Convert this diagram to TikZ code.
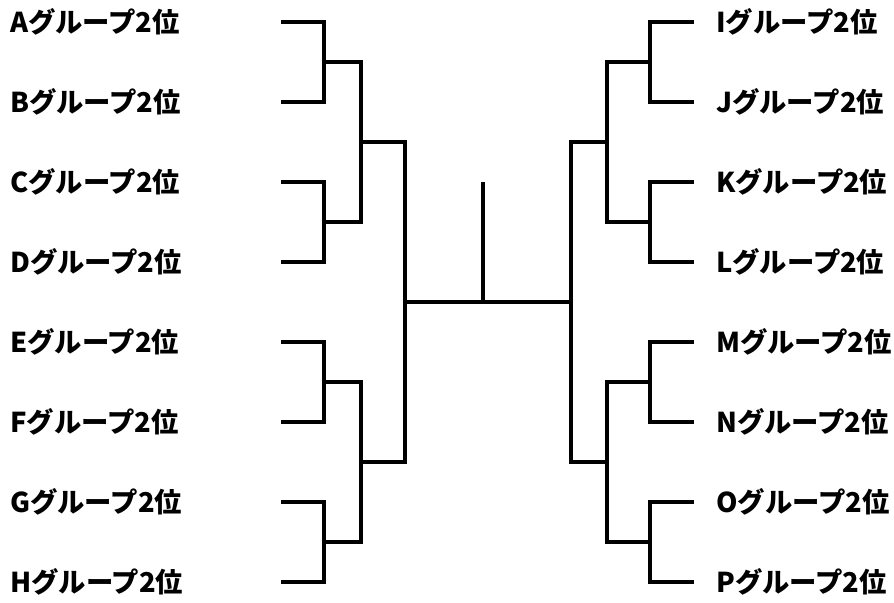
\documentclass[tikz,border=0pt]{standalone}
\usepackage{fontspec}
\usepackage{tikz}
\setmainfont{Noto Sans CJK JP}
\usetikzlibrary{positioning}
\tikzset{
  team/.style={font=\bfseries\fontsize{20.5}{20.5}\selectfont, inner sep=0pt, anchor=west},
  bracket/.style={line width=3pt, black}
}

\begin{document}
\begin{tikzpicture}[x=0.75pt,y=-0.75pt]
  \useasboundingbox (0,0) rectangle (894,603);

  \coordinate (a0) at (281,22);
  \coordinate (b0) at (281,102);
  \coordinate (c0) at (281,182);
  \coordinate (d0) at (281,262);
  \coordinate (e0) at (281,342);
  \coordinate (f0) at (281,422);
  \coordinate (g0) at (281,502);
  \coordinate (h0) at (281,582);
  \coordinate (ab) at (324,62);
  \coordinate (cd) at (324,222);
  \coordinate (ef) at (324,382);
  \coordinate (gh) at (324,542);
  \coordinate (abcd) at (361,142);
  \coordinate (efgh) at (361,462);
  \coordinate (left) at (405,302);

  \coordinate (i0) at (694,22);
  \coordinate (j0) at (694,102);
  \coordinate (k0) at (694,182);
  \coordinate (l0) at (694,262);
  \coordinate (m0) at (694,342);
  \coordinate (n0) at (694,422);
  \coordinate (o0) at (694,502);
  \coordinate (p0) at (694,582);
  \coordinate (ij) at (650,62);
  \coordinate (kl) at (650,222);
  \coordinate (mn) at (650,382);
  \coordinate (op) at (650,542);
  \coordinate (ijkl) at (607,142);
  \coordinate (mnop) at (607,462);
  \coordinate (right) at (571,302);

  \coordinate (center) at (483,302);
  \coordinate (top) at (483,182);

  \node[team] at (10,22) (a) {Aグループ2位};
  \node[team] at (10,102) (b) {Bグループ2位};
  \node[team] at (10,182) (c) {Cグループ2位};
  \node[team] at (10,262) (d) {Dグループ2位};
  \node[team] at (10,342) (e) {Eグループ2位};
  \node[team] at (10,422) (f) {Fグループ2位};
  \node[team] at (10,502) (g) {Gグループ2位};
  \node[team] at (10,582) (h) {Hグループ2位};

  \node[team] at (716,22) (i) {Iグループ2位};
  \node[team] at (716,102) (j) {Jグループ2位};
  \node[team] at (716,182) (k) {Kグループ2位};
  \node[team] at (716,262) (l) {Lグループ2位};
  \node[team] at (716,342) (m) {Mグループ2位};
  \node[team] at (716,422) (n) {Nグループ2位};
  \node[team] at (716,502) (o) {Oグループ2位};
  \node[team] at (716,582) (p) {Pグループ2位};

  \draw[bracket] (a0) -| (ab) |- (b0);
  \draw[bracket] (c0) -| (cd) |- (d0);
  \draw[bracket] (e0) -| (ef) |- (f0);
  \draw[bracket] (g0) -| (gh) |- (h0);
  \draw[bracket] (ab) -| (abcd) |- (cd);
  \draw[bracket] (ef) -| (efgh) |- (gh);
  \draw[bracket] (abcd) -| (left) |- (efgh);

  \draw[bracket] (i0) -| (ij) |- (j0);
  \draw[bracket] (k0) -| (kl) |- (l0);
  \draw[bracket] (m0) -| (mn) |- (n0);
  \draw[bracket] (o0) -| (op) |- (p0);
  \draw[bracket] (ij) -| (ijkl) |- (kl);
  \draw[bracket] (mn) -| (mnop) |- (op);
  \draw[bracket] (ijkl) -| (right) |- (mnop);

  \draw[bracket] (left) -- (right);
  \draw[bracket] (center) -- (top);

\end{tikzpicture}
\end{document}
